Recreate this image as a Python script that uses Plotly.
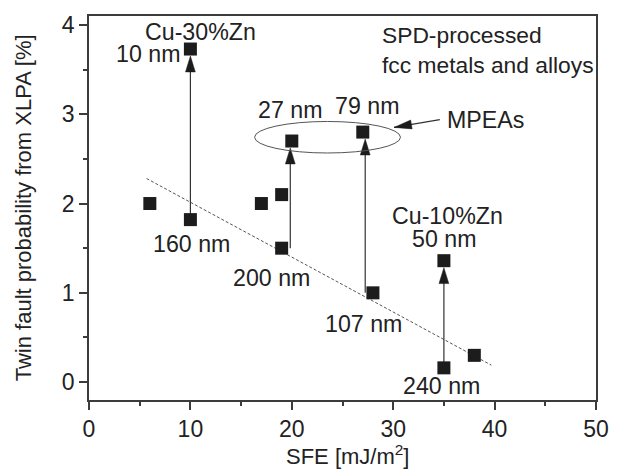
import math
import plotly.graph_objects as go

# ---------------- data ----------------
sfe = [6, 10, 10, 17, 19, 19, 20, 27, 28, 35, 35, 38]
twin = [2.0, 1.82, 3.73, 2.0, 2.10, 1.50, 2.70, 2.80, 1.0, 1.36, 0.16, 0.30]

arrow_x = [10, 19.85, 27.24, 35]
arrow_from = [1.82, 1.50, 1.00, 0.16]
arrow_to = [3.73, 2.70, 2.80, 1.36]

trend_x = [5.68, 39.68]
trend_y = [2.28, 0.19]

label_text = ["Cu-30%Zn", "10 nm", "160 nm", "200 nm", "27 nm", "79 nm",
              "107 nm", "Cu-10%Zn", "50 nm", "240 nm"]
label_x = [10.98, 5.85, 10.06, 17.99, 19.83, 27.37, 27.08, 35.4, 35.0, 34.77]
label_y = [3.92, 3.67, 1.549, 1.17, 3.053, 3.097, 0.647, 1.861, 1.605, -0.044]

note_text = ["SPD-processed", "fcc metals and alloys"]
note_x = [28.7, 28.7]
note_y = [3.888, 3.554]

mpea_ellipse_x = [16.33, 30.72]
mpea_ellipse_y = [2.566, 2.919]
mpea_label = "MPEAs"
mpea_label_xy = [39.1, 2.93]
mpea_arrow_tail = [34.6, 2.94]
mpea_arrow_tip = [30.08, 2.852]

x_range = [0, 50]
y_range = [-0.2, 4.1]

# ---------------- layout constants ----------------
W, H = 621, 471
ML, MR, MT, MB = 89, 15, 14, 71
PW, PH = W - ML - MR, H - MT - MB
XPX = PW / (x_range[1] - x_range[0])
YPX = PH / (y_range[1] - y_range[0])

FONT = "Liberation Sans, Arial, Helvetica, sans-serif"
TXT = "#222222"
AX = "#3c3c3c"
MK = "#1c1c1c"
LBL = 23.2


def head(x0, y0, x1, y1, length=16, width=10):
    """Arrowhead polygon at (x1, y1) pointing from (x0, y0), sized in pixels."""
    dxp = (x1 - x0) * XPX
    dyp = (y1 - y0) * YPX
    n = math.hypot(dxp, dyp)
    ux, uy = dxp / n, dyp / n
    bx, by = -ux * length, -uy * length
    px, py = -uy * width / 2, ux * width / 2
    xs = [x1, x1 + (bx + px) / XPX, x1 + (bx - px) / XPX, x1]
    ys = [y1, y1 + (by + py) / YPX, y1 + (by - py) / YPX, y1]
    return xs, ys


fig = go.Figure()

# trend line
fig.add_trace(go.Scatter(x=trend_x, y=trend_y, mode="lines",
                         line=dict(color="#555555", width=1, dash="3px,2px"),
                         hoverinfo="skip"))

# vertical arrows
tip_off = 7.0 / YPX
for xa, y0, y1 in zip(arrow_x, arrow_from, arrow_to):
    yt = y1 - tip_off
    fig.add_trace(go.Scatter(x=[xa, xa], y=[y0, yt - 10 / YPX], mode="lines",
                             line=dict(color="#333333", width=1.2), hoverinfo="skip"))
    hx, hy = head(xa, y0, xa, yt)
    fig.add_trace(go.Scatter(x=hx, y=hy, mode="lines", fill="toself",
                             fillcolor=MK, line=dict(color=MK, width=0.5),
                             hoverinfo="skip"))

# MPEAs arrow
tx, ty = mpea_arrow_tail
hx_, hy_ = mpea_arrow_tip
fig.add_trace(go.Scatter(x=[tx, hx_], y=[ty, hy_], mode="lines",
                         line=dict(color="#333333", width=1.2), hoverinfo="skip"))
hx, hy = head(tx, ty, hx_, hy_, length=18, width=9)
fig.add_trace(go.Scatter(x=hx, y=hy, mode="lines", fill="toself",
                         fillcolor=MK, line=dict(color=MK, width=0.5),
                         hoverinfo="skip"))

# data markers
fig.add_trace(go.Scatter(x=sfe, y=twin, mode="markers",
                         marker=dict(symbol="square", size=13, color=MK,
                                     line=dict(width=0))))

# ellipse
fig.add_shape(type="circle", xref="x", yref="y",
              x0=mpea_ellipse_x[0], x1=mpea_ellipse_x[1],
              y0=mpea_ellipse_y[0], y1=mpea_ellipse_y[1],
              line=dict(color="#555555", width=1))

ann = []
for t, x, y in zip(label_text, label_x, label_y):
    ann.append(dict(text=t, x=x, y=y, xref="x", yref="y", showarrow=False,
                    xanchor="center", yanchor="middle",
                    font=dict(family=FONT, size=LBL, color=TXT)))
for t, x, y in zip(note_text, note_x, note_y):
    ann.append(dict(text=t, x=x, y=y, xref="x", yref="y", showarrow=False,
                    xanchor="left", yanchor="middle",
                    font=dict(family=FONT, size=LBL - 0.4, color=TXT)))
ann.append(dict(text=mpea_label, x=mpea_label_xy[0], y=mpea_label_xy[1],
                xref="x", yref="y", showarrow=False, xanchor="center",
                yanchor="middle", font=dict(family=FONT, size=LBL, color=TXT)))
# axis titles
ann.append(dict(text="SFE [mJ/m<sup>2</sup>]", x=0.509, y=-0.1425, xref="paper",
                yref="paper", showarrow=False, xanchor="center", yanchor="middle",
                font=dict(family=FONT, size=22, color=TXT)))
ann.append(dict(text="Twin fault probability from XLPA [%]", x=-0.1296, y=0.5,
                xref="paper", yref="paper", showarrow=False, textangle=-90,
                xanchor="center", yanchor="middle",
                font=dict(family=FONT, size=22, color=TXT)))

axis_common = dict(showline=True, linewidth=1.5, linecolor=AX, mirror=True,
                   ticks="outside", ticklen=8, tickwidth=1.5, tickcolor=AX,
                   showgrid=False, zeroline=False,
                   tickfont=dict(family=FONT, size=23, color=TXT))

fig.update_layout(
    width=W, height=H,
    margin=dict(l=ML, r=MR, t=MT, b=MB),
    plot_bgcolor="white", paper_bgcolor="white",
    showlegend=False,
    annotations=ann,
    xaxis=dict(range=x_range, tickvals=[0, 10, 20, 30, 40, 50],
               minor=dict(ticks="outside", ticklen=4, tickwidth=1.5,
                          tickcolor=AX, dtick=5, tick0=0),
               **axis_common),
    yaxis=dict(range=y_range, tickvals=[0, 1, 2, 3, 4],
               minor=dict(ticks="outside", ticklen=4, tickwidth=1.5,
                          tickcolor=AX, dtick=0.5, tick0=0),
               **axis_common),
)

fig.write_html("out.html")
